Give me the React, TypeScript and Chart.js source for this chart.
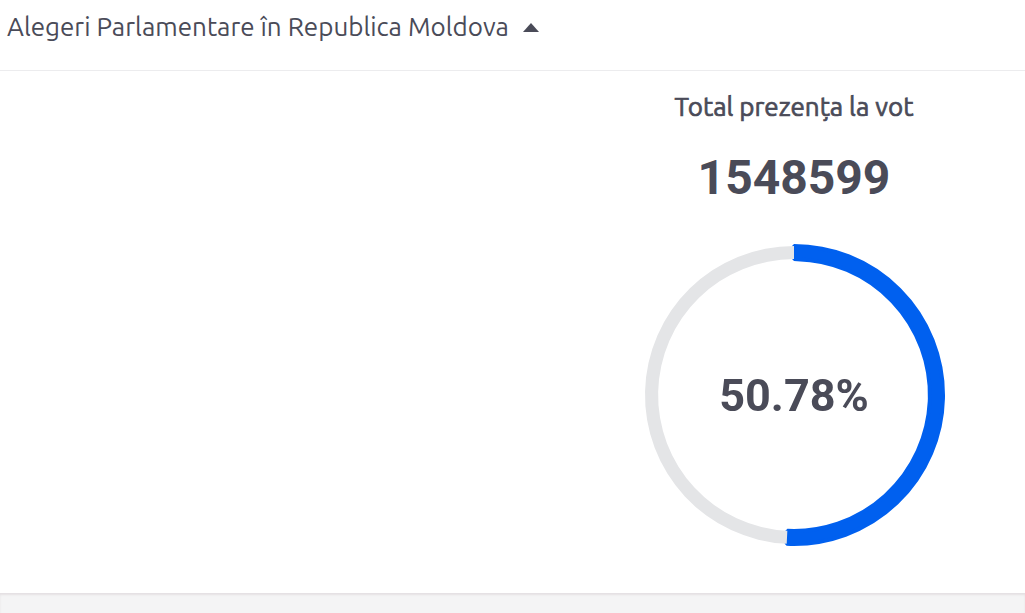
import React, { useEffect, useRef } from "react";
import { Chart, registerables } from "chart.js";

Chart.register(...registerables);

const pageTitle = "Alegeri Parlamentare în Republica Moldova";
const cardTitle = "Total prezența la vot";
const totalVoters = 1548599;
const categories = ["Prezența", "Restul"];
const turnoutValues = [50.78, 49.22];
const sliceColors = ["#0060ef", "#e4e5e7"];
const sliceBorders = [4, 0];

const textColor = "#4a4b58";

export default function App() {
  const ref = useRef<HTMLCanvasElement>(null);

  useEffect(() => {
    document.body.style.margin = "0";
    const chart = new Chart(ref.current as HTMLCanvasElement, {
      type: "doughnut",
      data: {
        labels: categories,
        datasets: [
          {
            data: turnoutValues,
            backgroundColor: sliceColors,
            borderColor: sliceColors,
            borderWidth: sliceBorders,
            hoverOffset: 0,
          },
        ],
      },
      options: {
        animation: false,
        responsive: true,
        maintainAspectRatio: false,
        radius: 149,
        cutout: "91.2%",
        layout: { padding: 0 },
        plugins: {
          legend: { display: false },
          tooltip: { enabled: false },
        },
      },
    });
    return () => chart.destroy();
  }, []);

  return (
    <div
      style={{
        position: "fixed",
        left: 0,
        top: 0,
        width: 1025,
        height: 613,
        background: "#ffffff",
        overflow: "hidden",
      }}
    >
      <div
        style={{
          position: "absolute",
          left: 7,
          top: 10,
          fontFamily: "'Ubuntu', 'Open Sans', sans-serif",
          fontSize: 26,
          color: textColor,
          whiteSpace: "nowrap",
          lineHeight: "34px",
          display: "flex",
          alignItems: "center",
        }}
      >
        <span>{pageTitle}</span>
        <span
          style={{
            display: "inline-block",
            marginLeft: 14,
            width: 0,
            height: 0,
            borderLeft: "8px solid transparent",
            borderRight: "8px solid transparent",
            borderBottom: "9px solid " + textColor,
          }}
        />
      </div>
      <div
        style={{
          position: "absolute",
          left: 0,
          top: 70,
          width: 1025,
          height: 1,
          background: "#ececee",
        }}
      />
      <div
        style={{
          position: "absolute",
          left: 594,
          width: 400,
          top: 91,
          textAlign: "center",
          fontFamily: "'Ubuntu', 'Open Sans', sans-serif",
          fontWeight: 400,
          fontSize: 26,
          lineHeight: "32px",
          color: textColor,
          WebkitTextStroke: "0.7px " + textColor,
        }}
      >
        {cardTitle}
      </div>
      <div
        style={{
          position: "absolute",
          left: 594,
          width: 400,
          top: 148,
          textAlign: "center",
          fontFamily: "Roboto, sans-serif",
          fontWeight: 700,
          fontSize: 48,
          lineHeight: "60px",
          color: textColor,
        }}
      >
        {totalVoters}
      </div>
      <div
        style={{
          position: "absolute",
          left: 634,
          top: 235,
          width: 320,
          height: 320,
        }}
      >
        <canvas ref={ref} />
        <div
          style={{
            position: "absolute",
            left: 0,
            top: 0,
            width: 320,
            height: 320,
            display: "flex",
            alignItems: "center",
            justifyContent: "center",
            fontFamily: "Roboto, sans-serif",
            fontWeight: 700,
            fontSize: 45,
            color: textColor,
            pointerEvents: "none",
          }}
        >
          {turnoutValues[0].toFixed(2) + "%"}
        </div>
      </div>
      <div
        style={{
          position: "absolute",
          left: 0,
          top: 593,
          width: 1025,
          height: 20,
          background: "#f4f4f5",
          boxShadow: "inset 0 2px 2px rgba(200,190,195,0.35)",
        }}
      />
    </div>
  );
}
